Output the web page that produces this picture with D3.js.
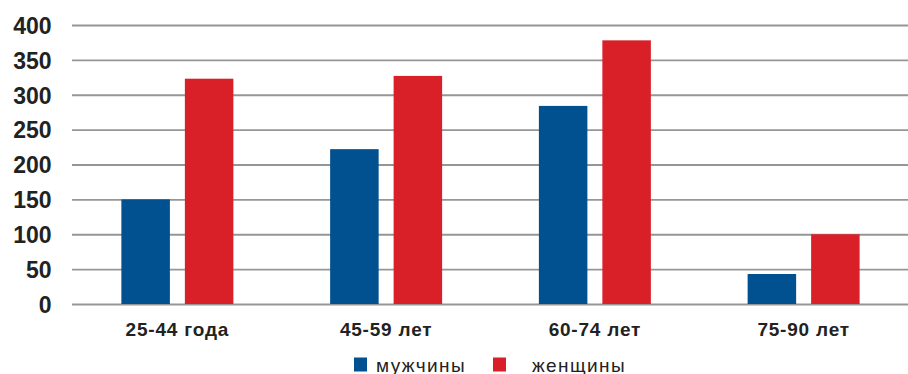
<!DOCTYPE html>
<html>
<head>
<meta charset="utf-8">
<script src="https://cdn.jsdelivr.net/npm/d3@7/dist/d3.min.js"></script>
<style>
  html, body { margin: 0; padding: 0; background: #fff; }
  svg { display: block; }
</style>
</head>
<body>
<svg id="chart" width="908" height="374"></svg>
<script>
// Age groups and counts by sex
const categories = ["25-44 года", "45-59 лет", "60-74 лет", "75-90 лет"];
const seriesNames = ["мужчины", "женщины"];
const men = [150, 222, 284, 43];
const women = [323, 327, 378, 100];
const yTicks = [0, 50, 100, 150, 200, 250, 300, 350, 400];
const colors = ["#01508f", "#d92028"];

const rows = categories.map((c, i) => ({ cat: c, values: [men[i], women[i]] }));

const svg = d3.select("#chart");
const W = 908;

const x0 = d3.scaleBand().domain(categories).range([73, 908]).padding(0);
const x1 = d3.scaleBand().domain(d3.range(seriesNames.length))
  .range([0, x0.bandwidth()]).paddingInner(0.236).paddingOuter(0.762);
const y = d3.scaleLinear().domain([0, 400]).range([304, 25]);

// horizontal grid lines
const grid = svg.append("g")
  .attr("transform", "translate(72,0)")
  .call(d3.axisLeft(y).tickValues(yTicks).tickSize(-(W - 72)).tickFormat(""));
grid.select(".domain").remove();
grid.selectAll(".tick line").attr("stroke", "#969696").attr("stroke-width", 1.8);

// y tick labels
const yAxis = svg.append("g")
  .attr("transform", "translate(51.5,0)")
  .call(d3.axisLeft(y).tickValues(yTicks).tickSize(0).tickPadding(0));
yAxis.select(".domain").remove();
yAxis.selectAll("text")
  .attr("font-family", "Liberation Sans, Arial, sans-serif")
  .attr("font-size", 23).attr("font-weight", "bold").attr("fill", "#222")
  .attr("dy", "0.36em");

// bars
const groups = svg.append("g").selectAll("g").data(rows).join("g")
  .attr("transform", d => `translate(${x0(d.cat)},0)`);
groups.selectAll("rect").data(d => d.values.map((v, i) => ({ v, i }))).join("rect")
  .attr("x", d => x1(d.i))
  .attr("width", x1.bandwidth())
  .attr("y", d => y(d.v))
  .attr("height", d => y(0) - y(d.v))
  .attr("fill", d => colors[d.i]);

// category labels
const xAxis = svg.append("g")
  .attr("transform", "translate(0,304)")
  .call(d3.axisBottom(x0).tickSize(0).tickPadding(0));
xAxis.select(".domain").remove();
xAxis.selectAll("text")
  .attr("y", 31.5).attr("dy", 0)
  .attr("font-family", "Liberation Sans, Arial, sans-serif")
  .attr("font-size", 19).attr("font-weight", "bold").attr("fill", "#222")
  .attr("letter-spacing", 0.8);

// legend
const legendPos = [354, 493];
const legendText = [376, 532];
const legend = svg.append("g");
seriesNames.forEach((name, i) => {
  legend.append("rect")
    .attr("x", legendPos[i]).attr("y", 357.5)
    .attr("width", 13).attr("height", 14)
    .attr("fill", colors[i]);
  legend.append("text")
    .attr("x", legendText[i]).attr("y", 371.5)
    .attr("font-family", "Liberation Sans, Arial, sans-serif")
    .attr("font-size", 19).attr("fill", "#222")
    .attr("letter-spacing", 1.4)
    .text(name);
});
</script>
</body>
</html>
